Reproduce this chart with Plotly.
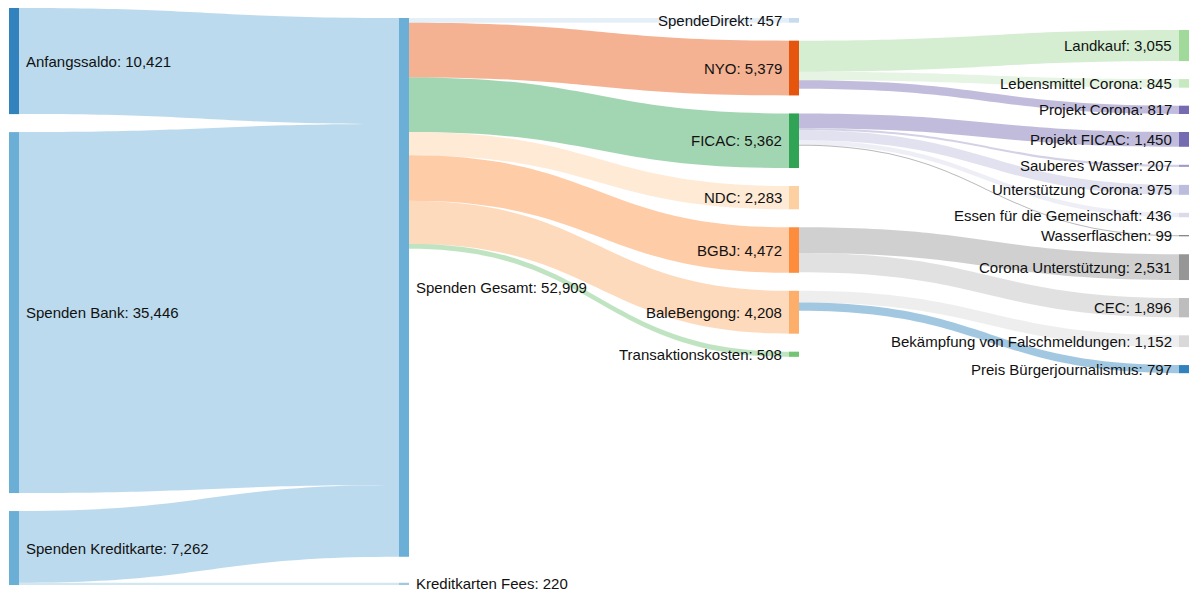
import plotly.graph_objects as go

# node names, top-to-bottom within each column
names = [
    "Anfangssaldo", "Spenden Bank", "Spenden Kreditkarte",
    "Spenden Gesamt", "Kreditkarten Fees",
    "SpendeDirekt", "NYO", "FICAC", "NDC", "BGBJ", "BaleBengong", "Transaktionskosten",
    "Landkauf", "Lebensmittel Corona", "Projekt Corona", "Projekt FICAC",
    "Sauberes Wasser", "Unterstützung Corona", "Essen für die Gemeinschaft",
    "Wasserflaschen", "Corona Unterstützung", "CEC",
    "Bekämpfung von Falschmeldungen", "Preis Bürgerjournalismus",
]

node_colors = [
    "#3182bd", "#6baed6", "#6baed6",
    "#6baed6", "#9ecae1",
    "#c6dbef", "#e6550d", "#31a354", "#fdd0a2", "#fd8d3c", "#fdae6b", "#74c476",
    "#a1d99b", "#c7e9c0", "#756bb1", "#756bb1",
    "#9e9ac8", "#bcbddc", "#dadaeb",
    "#636363", "#969696", "#bdbdbd",
    "#d9d9d9", "#3182bd",
]

link_source = [
    "Anfangssaldo", "Spenden Bank", "Spenden Kreditkarte", "Spenden Kreditkarte",
    "Spenden Gesamt", "Spenden Gesamt", "Spenden Gesamt", "Spenden Gesamt",
    "Spenden Gesamt", "Spenden Gesamt", "Spenden Gesamt",
    "NYO", "NYO", "NYO",
    "FICAC", "FICAC", "FICAC", "FICAC", "FICAC",
    "BGBJ", "BGBJ",
    "BaleBengong", "BaleBengong",
]
link_target = [
    "Spenden Gesamt", "Spenden Gesamt", "Spenden Gesamt", "Kreditkarten Fees",
    "SpendeDirekt", "NYO", "FICAC", "NDC",
    "BGBJ", "BaleBengong", "Transaktionskosten",
    "Landkauf", "Lebensmittel Corona", "Projekt Corona",
    "Projekt FICAC", "Sauberes Wasser", "Unterstützung Corona",
    "Essen für die Gemeinschaft", "Wasserflaschen",
    "Corona Unterstützung", "CEC",
    "Bekämpfung von Falschmeldungen", "Preis Bürgerjournalismus",
]
link_value = [
    10421, 35446, 7042, 220,
    457, 5379, 5362, 2283,
    4472, 4208, 508,
    3055, 845, 817,
    1450, 207, 975, 436, 99,
    2531, 1896,
    1152, 797,
]

FIG_W, FIG_H = 1190, 593
MARGIN = dict(l=9, r=1, t=8, b=8)
PAD, THICK = 18, 10
FONT = "Liberation Sans, Arial, Helvetica, sans-serif"
# share of each column's free space put above the stack / spread between its nodes
COL_TOP = [0.0, 0.556, 0.042, 0.094]
COL_SPREAD = [0.0, 0.444, 0.0, 0.0]

idx = {n: i for i, n in enumerate(names)}
src = [idx[s] for s in link_source]
tgt = [idx[t] for t in link_target]
N = len(names)

# node value = max(inflow, outflow)
inflow = [0] * N
outflow = [0] * N
for s, t, v in zip(src, tgt, link_value):
    outflow[s] += v
    inflow[t] += v
node_value = [max(a, b) for a, b in zip(inflow, outflow)]

# column = longest path from a source node (left aligned)
depth = [0] * N
for _ in range(N):
    for s, t in zip(src, tgt):
        depth[t] = max(depth[t], depth[s] + 1)
ncol = max(depth) + 1
columns = [[i for i in range(N) if depth[i] == c] for c in range(ncol)]

W = FIG_W - MARGIN["l"] - MARGIN["r"]
H = FIG_H - MARGIN["t"] - MARGIN["b"]
ky = min((H - (len(col) - 1) * PAD) / sum(node_value[i] for i in col) for col in columns)

node_x = [0.0] * N
node_y = [0.0] * N
x0_px = [0.0] * N
for c, col in enumerate(columns):
    stack = sum(node_value[i] for i in col) * ky + (len(col) - 1) * PAD
    free = H - stack
    gap = PAD + (free * COL_SPREAD[c] / (len(col) - 1) if len(col) > 1 else 0)
    y = free * COL_TOP[c]
    for i in col:
        h = node_value[i] * ky
        x0_px[i] = c * (W - THICK) / (ncol - 1)
        node_x[i] = (x0_px[i] + THICK / 2) / W
        node_y[i] = (y + h / 2) / H
        y += h + gap


def rgba(hex_color, alpha):
    h = hex_color.lstrip("#")
    r, g, b = int(h[0:2], 16), int(h[2:4], 16), int(h[4:6], 16)
    return f"rgba({r},{g},{b},{alpha})"


link_colors = [rgba(node_colors[t], 0.45) for t in tgt]

fig = go.Figure(
    go.Sankey(
        arrangement="fixed",
        node=dict(
            label=[""] * N,
            customdata=[f"{n}: {v:,}" for n, v in zip(names, node_value)],
            hovertemplate="%{customdata}<extra></extra>",
            color=node_colors,
            pad=PAD,
            thickness=THICK,
            line=dict(width=0),
            align="left",
            x=node_x,
            y=node_y,
        ),
        link=dict(source=src, target=tgt, value=link_value, color=link_colors),
    )
)

# node labels: right of the node in the left half, left of it in the right half
for i in range(N):
    if depth[i] < ncol / 2:
        ax, anchor, shift = (x0_px[i] + THICK) / W, "left", 5
    else:
        ax, anchor, shift = x0_px[i] / W, "right", -5
    fig.add_annotation(
        x=ax, y=1 - node_y[i], xref="paper", yref="paper",
        text=f"{names[i]}: {node_value[i]:,}",
        showarrow=False, xanchor=anchor, yanchor="middle", xshift=shift,
        font=dict(family=FONT, size=15, color="#111"),
    )

fig.update_layout(
    width=FIG_W,
    height=FIG_H,
    margin=MARGIN,
    paper_bgcolor="white",
    font=dict(family=FONT),
)

fig.write_html(
    "out.html",
    config={"displayModeBar": False},
    post_script="document.body.style.margin='0';",
)
